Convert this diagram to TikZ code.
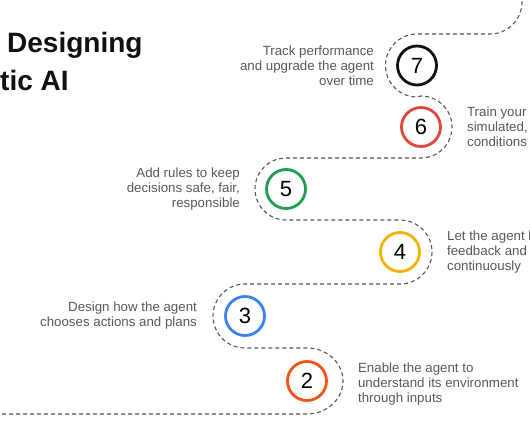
\documentclass[tikz,border=0pt]{standalone}
\usepackage{fontspec}
\setmainfont{Liberation Sans}
\usetikzlibrary{positioning, calc}
\definecolor{stepBlack}{RGB}{17,17,17}
\definecolor{stepRed}{RGB}{226,72,58}
\definecolor{stepGreen}{RGB}{30,158,80}
\definecolor{stepYellow}{RGB}{244,180,0}
\definecolor{stepBlue}{RGB}{59,130,246}
\definecolor{stepOrange}{RGB}{245,84,24}
\definecolor{stepText}{RGB}{88,88,88}
\definecolor{stepTrail}{RGB}{85,85,85}

\begin{document}
\begin{tikzpicture}[x=1pt, y=1pt,
        node distance=24pt,
        stepcircle/.style={circle, draw=#1, line width=2.8pt, minimum size=39pt, inner sep=0pt, font=\fontsize{22}{22}\selectfont, text=black},
        steptext/.style={inner sep=0pt, font=\fontsize{13.3}{15}\selectfont, text=stepText},
        titletext/.style={inner sep=0pt, anchor=base west, font=\fontsize{28}{34}\selectfont\bfseries, text=stepBlack},
        trail/.style={draw=stepTrail, line width=1.1pt, dash pattern=on 4pt off 3pt}
    ]
        \useasboundingbox (0,0) rectangle (530,442);
        \clip (0,0) rectangle (530,442);

        % Title
        \node[titletext] (title1) at (7,389) {Designing};
        \node[titletext] (title2) at (0,351) {tic AI};

        % Steps
        \node[stepcircle=stepOrange] (c2) at (307,61) {2};
        \node[stepcircle=stepBlue] (c3) at (245,126) {3};
        \node[stepcircle=stepYellow] (c4) at (400,190) {4};
        \node[stepcircle=stepGreen] (c5) at (286,253) {5};
        \node[stepcircle=stepRed] (c6) at (421,315) {6};
        \node[stepcircle=stepBlack] (c7) at (417,376.5) {7};

        % Trail
        \draw[trail] (-5,28) -- ($(c2)+(0,-33)$) arc[start angle=-90, end angle=90, x radius=36, y radius=33]
            -- ($(c3)+(0,-32)$) arc[start angle=270, end angle=90, radius=32]
            -- ($(c4)+(0,-32)$) arc[start angle=-90, end angle=90, radius=32]
            -- ($(c5)+(0,-31)$) arc[start angle=270, end angle=90, radius=31]
            -- ($(c6)+(0,-31)$) arc[start angle=-90, end angle=90, radius=31]
            -- ($(c7)+(0,-31.5)$) arc[start angle=270, end angle=90, radius=31.5]
            -- ++(73,0) arc[start angle=-90, end angle=0, radius=32] -- ++(0,10);

        % Labels
        \node[steptext, align=left, right=30pt of c2, yshift=-3pt] (t2) {Enable the agent to\\understand its environment\\through inputs};
        \node[steptext, align=right, left=27pt of c3] (t3) {Design how the agent\\chooses actions and plans};
        \node[steptext, align=left, right=26pt of c4] (t4) {Let the agent l\\feedback and\\continuously};
        \node[steptext, align=right, left=25pt of c5] (t5) {Add rules to keep\\decisions safe, fair,\\responsible};
        \node[steptext, align=left, right=25pt of c6] (t6) {Train your\\simulated,\\conditions};
        \node[steptext, align=right, left=22pt of c7] (t7) {Track performance\\and upgrade the agent\\over time};
    \end{tikzpicture}
\end{document}
